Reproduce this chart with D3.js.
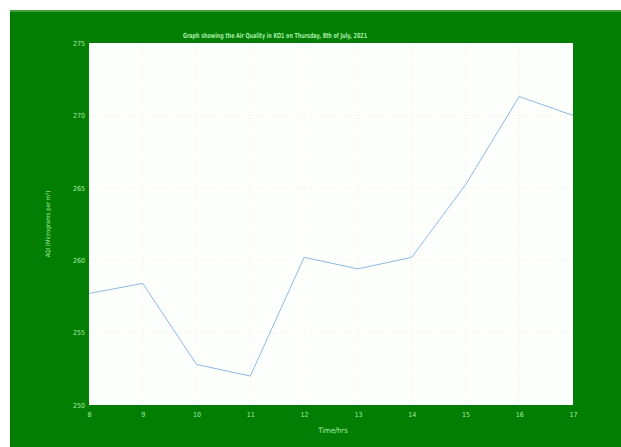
<!DOCTYPE html>
<html>
<head>
<meta charset="utf-8">
<script src="https://cdn.jsdelivr.net/npm/d3@7"></script>
<style>
  body{margin:0;background:#fff;}
  svg text{font-family:"Liberation Sans Narrow","DejaVu Sans Condensed","Liberation Sans",sans-serif;}
</style>
</head>
<body>
<svg id="chart" width="621" height="447"></svg>
<script>
"use strict";
//Chart data
var hours = [8,9,10,11,12,13,14,15,16,17];
var aqi = [257.7,258.4,252.8,252.0,260.2,259.4,260.2,265.2,271.3,270.0];
var yTicks = [250,255,260,265,270,275];
var titleText = "Graph showing the Air Quality in KO1 on Thursday, 8th of July, 2021";
var xLabel = "Time/hrs";
var yLabel = "AQI (Micrograms per m\u00B3)";

var svg = d3.select("#chart");
var bg = "#027f03", txt = "#a6eca6";

//Figure background
svg.append("rect").attr("x",10).attr("y",10).attr("width",611).attr("height",437).style("fill",bg);
svg.append("rect").attr("x",10).attr("y",10).attr("width",611).attr("height",2).style("fill","#3f9f3f");

var margin = {left:89,top:43,right:573,bottom:405};
var x = d3.scaleLinear().domain([8,17]).range([margin.left,margin.right]);
var y = d3.scaleLinear().domain([250,275]).range([margin.bottom,margin.top]);

var g = svg.append("g");
g.append("rect")
    .attr("x",margin.left).attr("y",margin.top)
    .attr("width",margin.right - margin.left).attr("height",margin.bottom - margin.top)
    .style("fill","#fdfffd");

//Grid (inner lines only)
var innerX = hours.slice(1,-1), innerY = yTicks.slice(1,-1);
g.selectAll(".gx").data(innerX).enter().append("line")
    .attr("x1",d=>x(d)).attr("x2",d=>x(d))
    .attr("y1",margin.top).attr("y2",margin.bottom)
    .style("stroke","#e4e8e4").style("stroke-width",0.7).style("stroke-dasharray","1,2");
g.selectAll(".gy").data(innerY).enter().append("line")
    .attr("y1",d=>y(d)).attr("y2",d=>y(d))
    .attr("x1",margin.left).attr("x2",margin.right)
    .style("stroke","#e4e8e4").style("stroke-width",0.7).style("stroke-dasharray","1,2");

//Axes, labels only
var xAxis = g.append("g").attr("transform","translate(0,"+margin.bottom+")")
    .call(d3.axisBottom(x).tickValues(hours).tickSize(0).tickPadding(7));
var yAxis = g.append("g").attr("transform","translate("+margin.left+",0)")
    .call(d3.axisLeft(y).tickValues(yTicks).tickSize(0).tickPadding(4));
[xAxis,yAxis].forEach(function(a){
    a.select(".domain").remove();
    a.selectAll("text").style("fill",txt).style("font-size","7px");
});

//Line
var line = d3.line().x((d,i)=>x(hours[i])).y(d=>y(d));
g.append("path").datum(aqi)
    .attr("d",line)
    .style("fill","none")
    .style("stroke","#8fb8e0")
    .style("stroke-width",1);

//Labels
svg.append("text").attr("x",275).attr("y",38)
    .attr("text-anchor","middle")
    .attr("textLength",184).attr("lengthAdjust","spacingAndGlyphs")
    .style("fill",txt).style("font-size","7px").style("font-weight","bold")
    .text(titleText);
svg.append("text").attr("x",333).attr("y",433)
    .attr("text-anchor","middle")
    .style("fill",txt).style("font-size","7.5px")
    .text(xLabel);
svg.append("text")
    .attr("transform","translate(50,224) rotate(-90)")
    .attr("text-anchor","middle")
    .style("fill",txt).style("font-size","6px")
    .text(yLabel);
</script>
</body>
</html>
